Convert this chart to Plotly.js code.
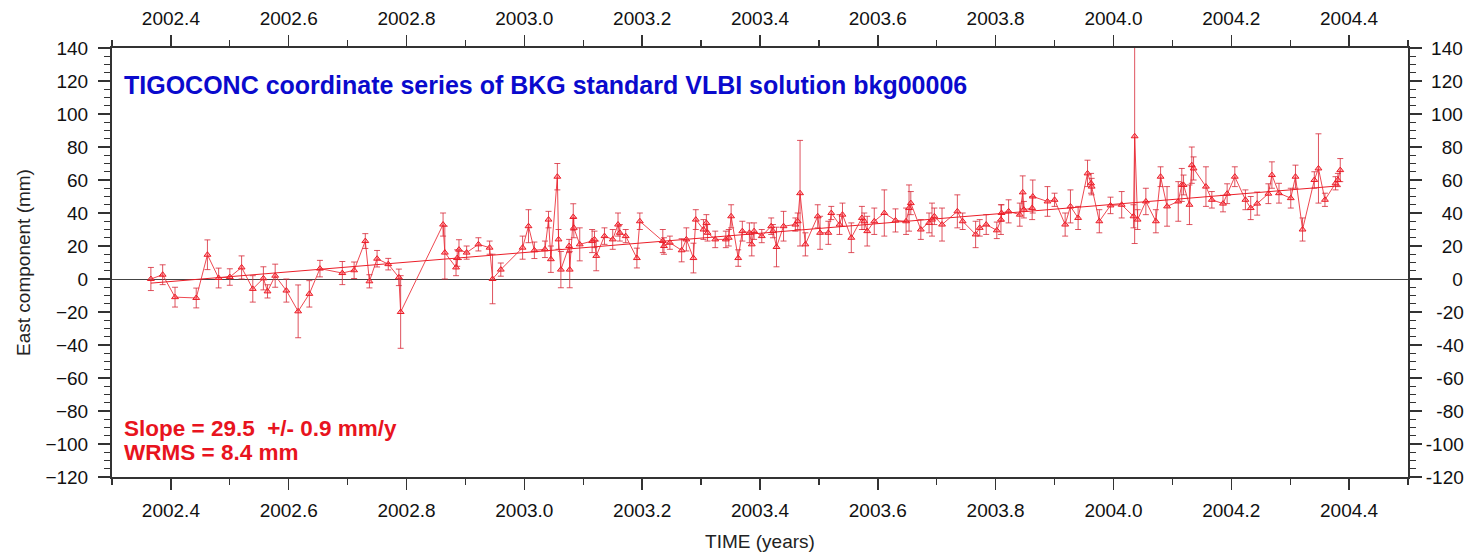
<!DOCTYPE html>
<html>
<head>
<meta charset="utf-8">
<script src="https://cdn.plot.ly/plotly-3.0.1.min.js"></script>
<style>html,body{margin:0;padding:0;background:#fff;}#chart{width:1478px;height:555px;}</style>
</head>
<body>
<div id="chart"></div>
<script>
// Epochs (decimal years)
const epochs = [
2002.366,2002.386,2002.407,2002.443,2002.462,2002.481,2002.500,2002.520,2002.539,2002.557,
2002.564,2002.577,2002.596,2002.616,2002.635,2002.653,2002.691,2002.711,2002.730,2002.737,
2002.750,2002.769,2002.787,2002.790,2002.862,2002.865,2002.884,2002.886,2002.889,2002.902,
2002.922,2002.941,2002.946,2002.960,2002.997,2003.007,2003.017,2003.035,2003.041,2003.045,
2003.056,2003.058,2003.062,2003.076,2003.077,2003.083,2003.084,2003.094,2003.115,2003.119,
2003.122,2003.136,2003.150,2003.159,2003.162,2003.172,2003.191,2003.196,2003.235,2003.237,
2003.247,2003.267,2003.275,2003.287,2003.291,2003.304,2003.309,2003.311,2003.324,2003.342,
2003.347,2003.351,2003.363,2003.370,2003.382,2003.386,2003.390,2003.403,2003.419,2003.422,
2003.428,2003.440,2003.460,2003.464,2003.468,2003.477,2003.498,2003.502,2003.516,2003.521,
2003.535,2003.540,2003.555,2003.573,2003.577,2003.582,2003.594,2003.611,2003.630,2003.648,
2003.653,2003.656,2003.673,2003.687,2003.692,2003.696,2003.709,2003.735,2003.744,2003.766,
2003.773,2003.784,2003.802,2003.809,2003.810,2003.822,2003.841,2003.846,2003.848,2003.862,
2003.863,2003.888,2003.900,2003.918,2003.927,2003.940,2003.956,2003.962,2003.963,2003.976,
2003.995,2004.014,2004.034,2004.036,2004.041,2004.055,2004.072,2004.080,2004.091,2004.110,
2004.116,2004.119,2004.129,2004.133,2004.136,2004.157,2004.167,2004.186,2004.193,2004.206,
2004.224,2004.233,2004.244,2004.263,2004.269,2004.281,2004.301,2004.309,2004.321,2004.341,
2004.348,2004.359,2004.377,2004.381,2004.385
];
// East component (mm)
const east = [
0,2.6,-11,-11.5,14.7,0.6,1.2,7,-6,0.4,
-7.5,2,-7,-19.6,-9,6.3,3.6,5.3,23,-1.4,
12.3,9,1,-20,33,16,7,12.7,17.8,16,
21,19,0,5.7,19,32,17.4,18,36,12,
62,24,5.7,20,5.7,37.6,31,21,23,24,
14,26,24,33,28,26,12.7,35,23,20,
22,17.4,24,12.7,36,30,34,28,24,24,
25,38,12.7,29,28,21,29,26,32,29,
19.4,32,33,35,52,21,38,28,28,40,
33,39,25,37,35,29,35,40,35.5,35,
43,46,30,34,36,38,33,41,35,27,
31,33,29.5,36,40,41,39,52.5,42,43,
50,47,48,33,44,37,64,58,56,35,
44.6,45,38,86.5,36,47,35,62,44,47,
57,57,45,69,67,56,48,45.7,51.7,62,
48,43,45.7,51.7,63,52,49,62,30,60,
67,48,58,60,66
];
// Formal errors (mm)
const sigma = [
7,6,6,6,9,6,5,7,8,7,
4,7,7,16,8,5,7,5,4.5,4,
5,3.5,5,22,7,16,5,5,6,4,
4,4,15,4,7,10,5,5,5,8,
8,6,11,4,11,8,6,10,7,5,
9,5,6,7,5,4,6,5,7,5,
4,7,7,9,6,6,5,5,5,5,
5,7,5,6,6,7,5,4,5,4,
12,9,4,5,32,7,7,10,7,4,
6,7,9,7,5,9,8,14,7,8,
14,7,6,6,10,5,10,10,5,8,
5,6,5,9,5,7,7,10,5,7,
10,9,4,7,10,7,8,6,5,7,
5,8,7,65,6,8,7,6,12,12,
10,6,12,11,7,12,5,5,6,6,
6,7,7,6,8,6,6,7,7,5,
21,4,4,4,7
];
// Linear trend (end points)
const trendEpochs = [2002.366, 2004.385];
const trendEast = [-2.5, 56.5];
// Axis ticks
const yTickVals = [140,120,100,80,60,40,20,0,-20,-40,-60,-80,-100,-120];
const titleText = "TIGOCONC coordinate series of BKG standard VLBI solution bkg00006";
const slopeText = "Slope = 29.5  +/- 0.9 mm/y";
const wrmsText = "WRMS = 8.4 mm";

const NB = "\u00a0";
function padRight(v){
  const s = String(v);
  const w = (s.startsWith("-") ? 0.333 : 0) + s.replace("-","").length*0.556;
  const n = Math.round((2.001 - w)/0.278);
  return NB.repeat(Math.max(0,n)) + s;
}
const yTickTextRight = yTickVals.map(padRight);

const RED = "rgb(235,30,40)";
const FONT = "Liberation Sans, Arial, Helvetica, sans-serif";
const tickFont = {family: FONT, size: 19, color: "#111"};

const traces = [
  {
    x: epochs, y: east, type: "scatter", mode: "lines+markers",
    line: {color: "rgba(235,40,50,0.85)", width: 1},
    marker: {symbol: "triangle-up", size: 6, color: "rgba(255,80,90,0.45)", line: {color: RED, width: 1}},
    error_y: {type: "data", array: sigma, visible: true, color: "rgba(215,40,55,0.8)", thickness: 1, width: 3},
    hoverinfo: "x+y", showlegend: false
  },
  {
    x: trendEpochs, y: trendEast, type: "scatter", mode: "lines",
    line: {color: RED, width: 1}, hoverinfo: "skip", showlegend: false
  },
  {
    x: [epochs[0]], y: [east[0]], xaxis: "x2", yaxis: "y2", type: "scatter", mode: "markers",
    marker: {opacity: 0}, hoverinfo: "skip", showlegend: false
  }
];

const xCommon = {
  range: [2002.3, 2004.5], tick0: 2002.4, dtick: 0.2, tickformat: ".1f",
  ticks: "outside", ticklen: 11, tickwidth: 1.5, tickcolor: "#333",
  minor: {tick0: 2002.3, dtick: 0.1, ticks: "outside", ticklen: 6, tickwidth: 1.2, tickcolor: "#333"},
  showline: true, linecolor: "#333", linewidth: 2, showgrid: false, zeroline: false,
  tickfont: tickFont
};
const yCommon = {
  range: [-120, 140], tick0: 0, dtick: 20,
  ticks: "outside", ticklen: 12, tickwidth: 1.5, tickcolor: "#333",
  minor: {tick0: 0, dtick: 5, ticks: "outside", ticklen: 6, tickwidth: 1.2, tickcolor: "#333"},
  showline: true, linecolor: "#333", linewidth: 2, showgrid: false,
  tickfont: tickFont
};

const layout = {
  width: 1478, height: 555,
  margin: {l: 112, r: 70, t: 48, b: 78},
  paper_bgcolor: "#fff", plot_bgcolor: "#fff",
  showlegend: false,
  xaxis: Object.assign({}, xCommon, {
    side: "bottom", anchor: "y", ticklabelstandoff: 4,
    title: {text: "TIME (years)", font: {family: FONT, size: 19, color: "#222"}, standoff: 15}
  }),
  xaxis2: Object.assign({}, xCommon, {side: "top", overlaying: "x", matches: "x", anchor: "y", ticklabelstandoff: 2}),
  yaxis: Object.assign({}, yCommon, {
    side: "left", anchor: "x", ticklabelstandoff: 6,
    zeroline: true, zerolinecolor: "#444", zerolinewidth: 1,
    title: {text: "East component (mm)", font: {family: FONT, size: 19, color: "#222"}, standoff: 10}
  }),
  yaxis2: Object.assign({}, yCommon, {
    side: "right", overlaying: "y", matches: "y", anchor: "x", zeroline: false,
    tickmode: "array", tickvals: yTickVals, ticktext: yTickTextRight
  }),
  annotations: [
    {xref: "paper", yref: "paper", x: 0.008, y: 0.914, xanchor: "left", yanchor: "middle",
     text: "<b>" + titleText + "</b>", showarrow: false,
     font: {family: FONT, size: 25, color: "rgb(10,10,205)"}},
    {xref: "paper", yref: "paper", x: 0.008, y: 0.112, xanchor: "left", yanchor: "middle",
     text: "<b>" + slopeText.replace(/  /g, " \u00a0") + "</b>", showarrow: false,
     font: {family: FONT, size: 22.5, color: "rgb(232,20,30)"}},
    {xref: "paper", yref: "paper", x: 0.008, y: 0.056, xanchor: "left", yanchor: "middle",
     text: "<b>" + wrmsText + "</b>", showarrow: false,
     font: {family: FONT, size: 22.5, color: "rgb(232,20,30)"}}
  ]
};

Plotly.newPlot("chart", traces, layout, {displayModeBar: false, staticPlot: true});
</script>
</body>
</html>
